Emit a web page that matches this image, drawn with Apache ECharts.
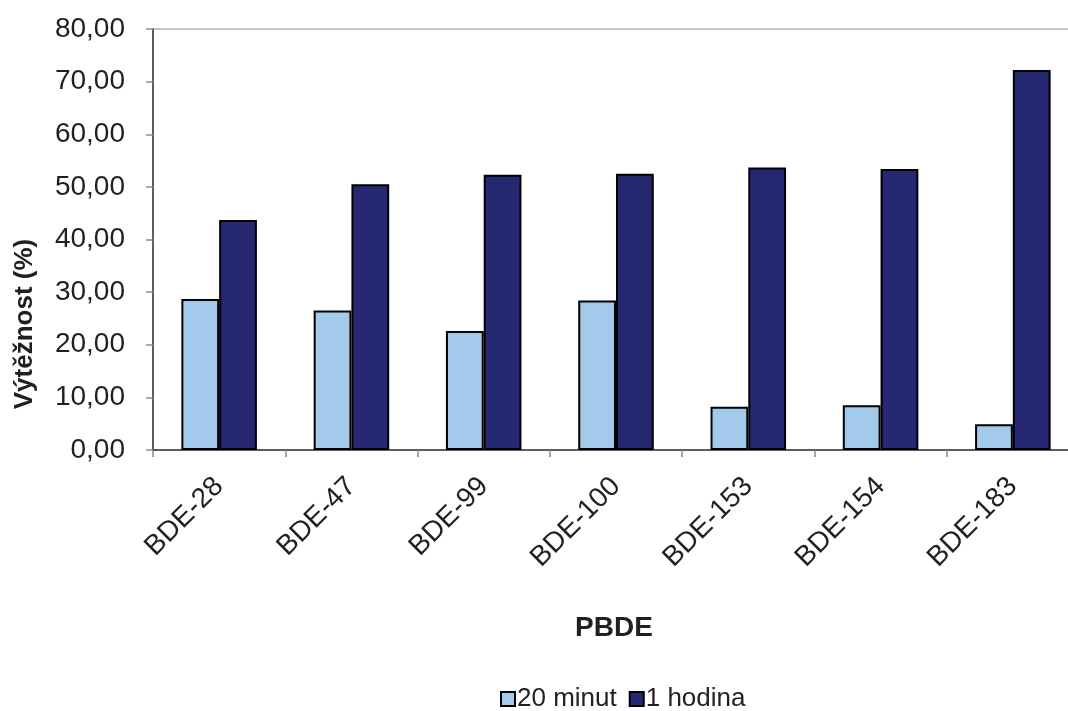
<!DOCTYPE html>
<html>
<head>
<meta charset="utf-8">
<script src="https://cdn.jsdelivr.net/npm/echarts@6/dist/echarts.min.js"></script>
<style>
  html, body { margin: 0; padding: 0; background: #fff; }
  #chart { width: 1068px; height: 711px; }
</style>
</head>
<body>
<div id="chart"></div>
<script>
// Recovery of PBDE congeners after two extraction times
const categories = ['BDE-28', 'BDE-47', 'BDE-99', 'BDE-100', 'BDE-153', 'BDE-154', 'BDE-183'];
const series20min = [28.7, 26.5, 22.6, 28.4, 8.2, 8.5, 4.9];
const series1h = [43.7, 50.5, 52.3, 52.5, 53.7, 53.4, 72.2];
const seriesNames = ['20 minut', '1 hodina'];
const yTicks = [0, 10, 20, 30, 40, 50, 60, 70, 80];

const FONT = '"Liberation Sans", Arial, sans-serif';
const TXT = '#231f20';

const chart = echarts.init(document.getElementById('chart'), null, { renderer: 'canvas' });

chart.setOption({
  animation: false,
  backgroundColor: '#fff',
  textStyle: { fontFamily: FONT, color: TXT },
  grid: {
    left: 153, top: 29, height: 421, width: 926,
    outerBoundsMode: 'none',
    show: true, borderColor: '#8c8c8c', borderWidth: 1, backgroundColor: 'transparent',
    containLabel: false
  },
  legend: {
    data: seriesNames,
    left: 495, top: 681,
    itemWidth: 14, itemHeight: 14, itemGap: 12,
    icon: 'rect',
    textStyle: { fontFamily: FONT, fontSize: 26, color: TXT, padding: [0, 0, 0, -3] },
    itemStyle: { borderColor: '#000', borderWidth: 2 }
  },
  xAxis: {
    type: 'category',
    data: categories,
    name: 'PBDE',
    nameLocation: 'middle',
    nameGap: 164,
    nameTextStyle: { fontFamily: FONT, fontSize: 28, fontWeight: 'bold', color: TXT, padding: [0, 0, 0, -4] },
    axisLine: { lineStyle: { color: '#3a3a3a', width: 1.5 } },
    axisTick: { show: true, length: 7, lineStyle: { color: '#8c8c8c', width: 1.5 } },
    axisLabel: {
      rotate: 45, fontSize: 28, color: TXT, fontFamily: FONT, margin: 32
    },
    splitLine: { show: false }
  },
  yAxis: {
    type: 'value',
    min: yTicks[0], max: yTicks[yTicks.length - 1], interval: 10,
    axisLine: { show: true, lineStyle: { color: '#3a3a3a', width: 1.5 } },
    axisTick: { show: true, length: 7, lineStyle: { color: '#8c8c8c', width: 1.5 } },
    axisLabel: {
      fontSize: 28, color: TXT, fontFamily: FONT, margin: 28,
      formatter: v => v.toFixed(2).replace('.', ',')
    },
    splitLine: { show: false }
  },
  graphic: [{
    type: 'text',
    x: 25, y: 324,
    rotation: Math.PI / 2,
    style: {
      text: 'Výtěžnost (%)',
      font: 'bold 26px ' + FONT,
      fill: TXT,
      align: 'center',
      verticalAlign: 'middle'
    }
  }],
  series: [
    {
      name: seriesNames[0], type: 'bar', data: series20min,
      barGap: '0%', barCategoryGap: '42.9%',
      itemStyle: { color: '#a3c9eb', borderColor: '#000', borderWidth: 2 }
    },
    {
      name: seriesNames[1], type: 'bar', data: series1h,
      barGap: '0%', barCategoryGap: '42.9%',
      itemStyle: { color: '#262872', borderColor: '#000', borderWidth: 2 }
    }
  ]
});
</script>
</body>
</html>
